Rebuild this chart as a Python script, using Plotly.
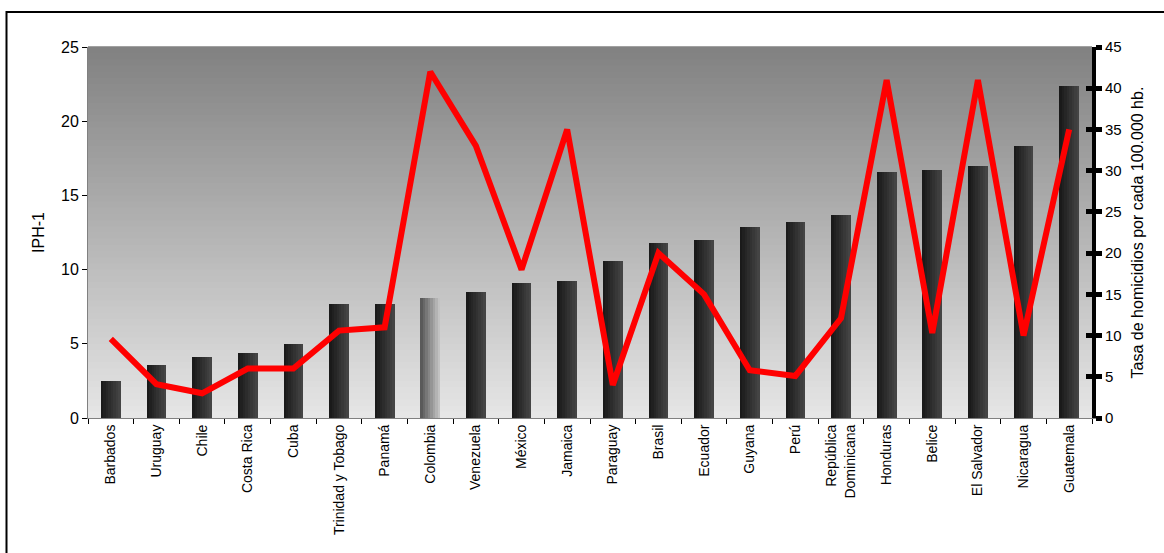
import plotly.graph_objects as go

countries = ["Barbados", "Uruguay", "Chile", "Costa Rica", "Cuba", "Trinidad y Tobago",
             "Panamá", "Colombia", "Venezuela", "México", "Jamaica", "Paraguay", "Brasil",
             "Ecuador", "Guyana", "Perú", "República<br>Dominicana", "Honduras", "Belice",
             "El Salvador", "Nicaragua", "Guatemala"]
iph1 = [2.5, 3.6, 4.1, 4.4, 5.0, 7.7, 7.7, 8.1, 8.5, 9.1, 9.2, 10.6, 11.8, 12.0,
        12.9, 13.2, 13.7, 16.6, 16.7, 17.0, 18.3, 22.4]
homicidios = [9.6, 4.1, 3.0, 6.0, 6.0, 10.6, 11.0, 42.0, 33.0, 18.0, 35.0, 4.0, 20.0,
              15.0, 5.8, 5.1, 12.1, 41.0, 10.3, 41.0, 10.0, 35.0]
left_ticks = [0, 5, 10, 15, 20, 25]
right_ticks = [0, 5, 10, 15, 20, 25, 30, 35, 40, 45]

FONT = "Liberation Sans, Arial, sans-serif"
fig = go.Figure()

# gradient plot background
nbg = 60
for i in range(nbg):
    t = i / (nbg - 1)
    g = int(0xe6 + (0x82 - 0xe6) * t)
    fig.add_shape(type="rect", xref="paper", yref="paper", x0=0, x1=1,
                  y0=i / nbg, y1=(i + 1) / nbg + 0.002, layer="below",
                  line=dict(width=0), fillcolor=f"rgb({g},{g},{g})")

# bars drawn as narrow strips to imitate a horizontal gradient
nstrip = 8
bw = 0.43
for s in range(nstrip):
    t = s / (nstrip - 1)
    colors = []
    for c in countries:
        if c == "Colombia":
            g = int(0x5a + (0xc2 - 0x5a) * t)
        else:
            g = int(0x1a + (0x44 - 0x1a) * t)
        colors.append(f"rgb({g},{g},{g})")
    fig.add_trace(go.Bar(x=countries, y=iph1, width=bw / nstrip + 0.002,
                         offset=-bw / 2 + s * bw / nstrip,
                         marker=dict(color=colors, line=dict(width=0)),
                         showlegend=False, hoverinfo="skip"))

fig.add_trace(go.Scatter(x=countries, y=homicidios, yaxis="y2", mode="lines",
                         line=dict(color="#ff0000", width=6), showlegend=False))

# outer frame
fig.add_shape(type="rect", xref="paper", yref="paper",
              x0=(6.5 - 88) / 1004, x1=1.2, y0=-0.6, y1=(418 - 12) / 371,
              line=dict(color="black", width=2), fillcolor="rgba(0,0,0,0)")

fig.add_annotation(text="<b>(2005)</b>", xref="paper", yref="paper",
                   x=(567 - 88) / 1004, y=(418 - 2) / 371, yanchor="bottom",
                   showarrow=False, font=dict(family=FONT, size=18, color="black"))

fig.update_layout(
    width=1164, height=553,
    margin=dict(l=88, r=72, t=47, b=135),
    paper_bgcolor="white", plot_bgcolor="rgba(0,0,0,0)",
    barmode="overlay", bargap=0,
    font=dict(family=FONT, color="black"),
    xaxis=dict(type="category", tickson="boundaries", ticks="outside", ticklen=5,
               tickcolor="black", showline=True, linecolor="#808080", linewidth=1,
               tickangle=-90, tickfont=dict(size=14), showgrid=False,
               range=[-0.5, len(countries) - 0.5]),
    yaxis=dict(range=[0, 25], tickvals=left_ticks, ticks="outside", ticklen=5,
               tickcolor="black", showline=True, linecolor="#808080", linewidth=1,
               showgrid=False, zeroline=False, tickfont=dict(size=16),
               title=dict(text="IPH-1", font=dict(size=16), standoff=12)),
    yaxis2=dict(range=[0, 45], tickvals=right_ticks, overlaying="y", side="right",
                ticks="outside", ticklen=6, tickwidth=5, tickcolor="black",
                showline=True, linecolor="black", linewidth=4, showgrid=False,
                zeroline=False, tickfont=dict(size=15),
                title=dict(text="Tasa de homicidios por cada 100.000 hb.",
                           font=dict(size=16), standoff=12)),
    yaxis3=dict(range=[0, 45], tickvals=right_ticks, overlaying="y", side="right",
                ticks="inside", ticklen=6, tickwidth=5, tickcolor="black",
                showline=False, showgrid=False, zeroline=False, showticklabels=False),
)
fig.add_trace(go.Scatter(x=[countries[0]], y=[None], yaxis="y3", showlegend=False,
                         hoverinfo="skip"))

fig.write_html("out.html")
